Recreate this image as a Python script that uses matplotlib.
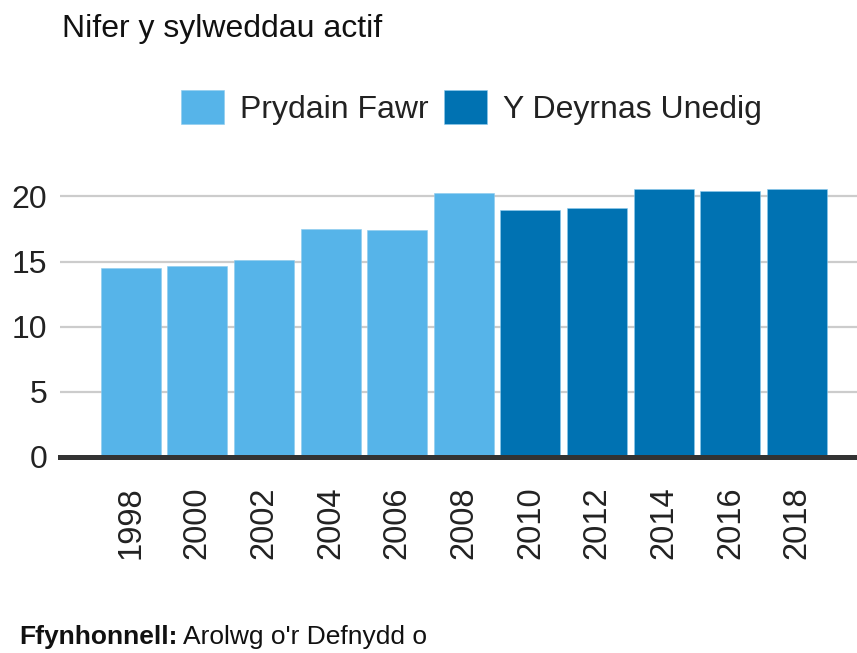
import numpy as np
import matplotlib
matplotlib.use("Agg")
import matplotlib.pyplot as plt
from matplotlib.patches import Patch

plt.rcParams['font.family'] = ['Liberation Sans', 'DejaVu Sans']

# nifer y sylweddau actif, fesul blwyddyn
blynyddoedd = ['1998', '2000', '2002', '2004', '2006', '2008',
               '2010', '2012', '2014', '2016', '2018']
gwerthoedd = [14.5, 14.7, 15.1, 17.5, 17.4, 20.3,
              19.0, 19.1, 20.6, 20.4, 20.6]
ardal = ['Prydain Fawr'] * 6 + ['Y Deyrnas Unedig'] * 5
cyfresi = ['Prydain Fawr', 'Y Deyrnas Unedig']
lliwiau = {'Prydain Fawr': '#56B4E9', 'Y Deyrnas Unedig': '#0072B2'}

fig = plt.figure(figsize=(8.57, 6.53), dpi=100)
ax = fig.add_axes([0.070, 0.3002, 0.930, 0.4288])

x = np.arange(len(blynyddoedd))
ax.bar(x, gwerthoedd, width=0.9, color=[lliwiau[a] for a in ardal],
       edgecolor='#8ccbee', linewidth=0.4, zorder=2)

ax.set_xlim(-1.06, 10.9)
ax.set_ylim(0, 21.5)
ax.set_yticks([0, 5, 10, 15, 20])
ax.set_xticks(x)
ax.set_xticklabels(blynyddoedd, rotation=90, va='top')

ax.yaxis.grid(True, color='#cccccc', linewidth=1.6)
ax.set_axisbelow(True)
for s in ['top', 'right', 'left']:
    ax.spines[s].set_visible(False)
ax.spines['bottom'].set_color('#333333')
ax.spines['bottom'].set_linewidth(3.6)
ax.spines['bottom'].set_zorder(3)

ax.tick_params(axis='y', length=0, pad=9, labelsize=23, labelcolor='#222222')
ax.tick_params(axis='x', length=0, pad=21, labelsize=23.5, labelcolor='#222222')

fig.text(0.072, 0.955, 'Nifer y sylweddau actif', fontsize=23,
         ha='left', va='center', color='#111111')

handles = [Patch(facecolor=lliwiau[c], edgecolor='#8ccbee', linewidth=0.4) for c in cyfresi]
fig.legend(handles, cyfresi, loc='center', bbox_to_anchor=(0.550, 0.836),
           ncol=2, frameon=False, fontsize=23, handlelength=1.35,
           handleheight=1.3, handletextpad=0.5, columnspacing=0.5,
           labelcolor='#222222')

t1 = fig.text(0.023, 0.024, 'Ffynhonnell:', fontsize=19, fontweight='bold',
              ha='left', va='center', color='#111111')
fig.canvas.draw()
bb = t1.get_window_extent().transformed(fig.transFigure.inverted())
fig.text(bb.x1 + 0.006, 0.024, "Arolwg o'r Defnydd o", fontsize=19,
         ha='left', va='center', color='#111111')

fig.savefig('out.png', dpi=100)
